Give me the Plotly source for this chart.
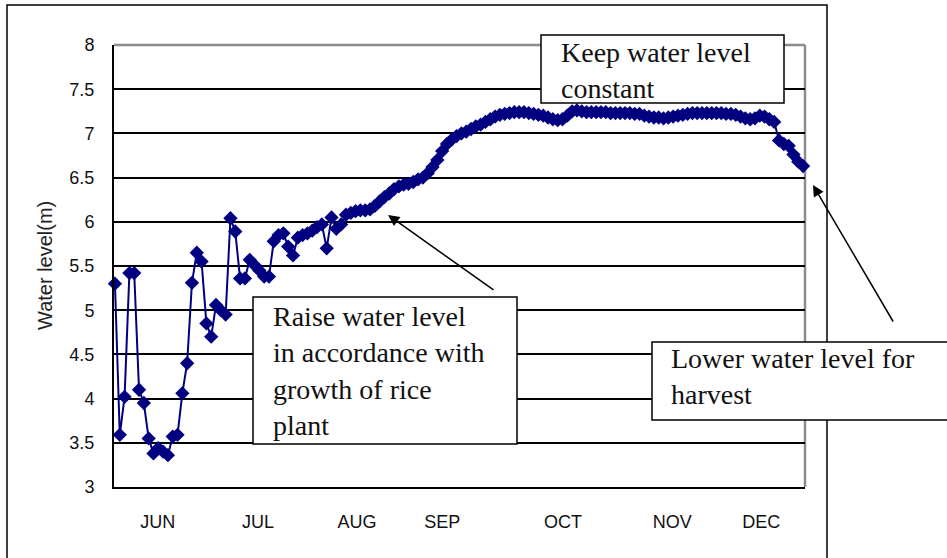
import plotly.graph_objects as go

# ---------------- data ----------------
water_level = [
    5.30, 3.59, 4.02, 5.42, 5.42, 4.10, 3.95, 3.55, 3.38, 3.44,
    3.40, 3.36, 3.57, 3.59, 4.06, 4.40, 5.31, 5.65, 5.55, 4.85,
    4.70, 5.06, 5.00, 4.95, 6.04, 5.89, 5.36, 5.36, 5.57, 5.51,
    5.45, 5.38, 5.38, 5.78, 5.85, 5.87, 5.72, 5.62, 5.82, 5.85,
    5.87, 5.90, 5.94, 5.97, 5.70, 6.05, 5.92, 5.97, 6.08, 6.10,
    6.12, 6.13, 6.13, 6.14, 6.18, 6.23, 6.28, 6.32, 6.37, 6.40,
    6.42, 6.43, 6.45, 6.48, 6.50, 6.55, 6.62, 6.70, 6.80, 6.88,
    6.93, 6.97, 7.00, 7.02, 7.05, 7.08, 7.10, 7.13, 7.16, 7.19,
    7.21, 7.22, 7.23, 7.24, 7.24, 7.24, 7.23, 7.22, 7.21, 7.20,
    7.18, 7.16, 7.15, 7.16, 7.20, 7.25, 7.26, 7.25, 7.24, 7.24,
    7.24, 7.24, 7.24, 7.23, 7.23, 7.23, 7.23, 7.23, 7.22, 7.22,
    7.20, 7.19, 7.18, 7.18, 7.17, 7.18, 7.19, 7.20, 7.21, 7.22,
    7.23, 7.23, 7.23, 7.23, 7.23, 7.23, 7.23, 7.22, 7.22, 7.21,
    7.19, 7.17, 7.16, 7.17, 7.20, 7.19, 7.16, 7.13, 6.92, 6.88,
    6.86, 6.76, 6.68, 6.63,
]
obs_index = list(range(len(water_level)))

month_labels = ["JUN", "JUL", "AUG", "SEP", "OCT", "NOV", "DEC"]
month_label_index = [8.9, 29.7, 50.3, 68.0, 93.1, 115.8, 134.3]

y_ticks = [3, 3.5, 4, 4.5, 5, 5.5, 6, 6.5, 7, 7.5, 8]

# ---------------- layout helpers ----------------
W, H = 947, 558
PL, PR, PT, PB = 114, 805, 45, 487


def fx(px):
    return (px - PL) / (PR - PL)


def fy(py):
    return (PB - py) / (PB - PT)


fig = go.Figure()
fig.add_trace(go.Scatter(
    x=obs_index, y=water_level, mode="lines+markers",
    line=dict(color="#000080", width=2),
    marker=dict(symbol="diamond", size=11, color="#000080"),
    cliponaxis=False, showlegend=False,
))

shapes = []
# outer frame
shapes.append(dict(type="rect", xref="paper", yref="paper",
                   x0=fx(7), x1=fx(827), y0=fy(575), y1=fy(5),
                   line=dict(color="black", width=1.5), layer="above"))
# gray top / right plot border
shapes.append(dict(type="line", xref="paper", yref="paper",
                   x0=0, x1=1, y0=1, y1=1,
                   line=dict(color="#8c8c8c", width=2.5), layer="between"))
shapes.append(dict(type="line", xref="paper", yref="paper",
                   x0=1, x1=1, y0=0, y1=1,
                   line=dict(color="#8c8c8c", width=2.5), layer="between"))
# text boxes
for (x0, x1, y0, y1) in [(253, 517, 297, 444), (541, 784, 35, 103), (652, 975, 342, 420)]:
    shapes.append(dict(type="rect", xref="paper", yref="paper",
                       x0=fx(x0), x1=fx(x1), y0=fy(y1), y1=fy(y0),
                       line=dict(color="black", width=1.5),
                       fillcolor="white", layer="above"))

serif = dict(family="Liberation Serif, Times New Roman, serif", size=28, color="#111111")
annotations = [
    dict(xref="paper", yref="paper", x=fx(271), y=fy(299), xanchor="left", yanchor="top",
         align="left", showarrow=False, font=serif,
         text="Raise water level<br>in accordance with<br>growth of rice<br>plant"),
    dict(xref="paper", yref="paper", x=fx(559), y=fy(35), xanchor="left", yanchor="top",
         align="left", showarrow=False, font=serif,
         text="Keep water level<br>constant"),
    dict(xref="paper", yref="paper", x=fx(669), y=fy(341), xanchor="left", yanchor="top",
         align="left", showarrow=False, font=serif,
         text="Lower water level for<br>harvest"),
    # arrows
    dict(xref="paper", yref="paper", x=fx(388), y=fy(215), axref="pixel", ayref="pixel",
         ax=107, ay=76, text="", showarrow=True, arrowhead=2, arrowsize=1.5,
         arrowwidth=1.5, arrowcolor="black", standoff=0),
    dict(xref="paper", yref="paper", x=fx(813), y=fy(185), axref="pixel", ayref="pixel",
         ax=81, ay=138, text="", showarrow=True, arrowhead=2, arrowsize=1.5,
         arrowwidth=1.5, arrowcolor="black", standoff=0),
    # y title
    dict(xref="paper", yref="paper", x=fx(45), y=0.5, xanchor="center", yanchor="middle",
         textangle=-90, showarrow=False, text="Water level(m)",
         font=dict(family="Liberation Sans, Arial, sans-serif", size=20, color="#222222")),
]

fig.update_layout(
    width=W, height=H, autosize=False,
    margin=dict(l=PL, r=W - PR, t=PT, b=H - PB, pad=0),
    paper_bgcolor="white", plot_bgcolor="white",
    shapes=shapes, annotations=annotations,
    font=dict(family="Liberation Sans, Arial, sans-serif", size=18, color="#111111"),
)
fig.update_xaxes(
    range=[-0.2, len(water_level) - 1 + 0.4],
    tickvals=month_label_index, ticktext=month_labels,
    showgrid=False, zeroline=False, ticks="",
    showline=True, linecolor="black", linewidth=2,
    ticklabelstandoff=17, tickfont=dict(size=18),
)
fig.update_yaxes(
    range=[3, 8], tickvals=y_ticks,
    showgrid=True, gridcolor="black", gridwidth=1.5,
    zeroline=False, ticks="",
    showline=True, linecolor="black", linewidth=2,
    ticklabelstandoff=14, tickfont=dict(size=18),
)

fig.write_html("out.html", config={"displayModeBar": False},
               post_script="document.body.style.margin='0';")
